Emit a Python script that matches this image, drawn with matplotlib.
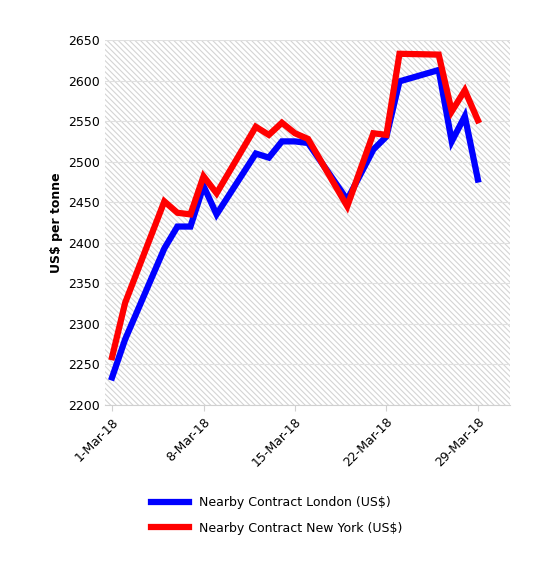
import matplotlib
matplotlib.use("Agg")
import matplotlib.pyplot as plt
import numpy as np
import datetime as dt

days = [1,2,5,6,7,8,9,12,13,14,15,16,19,21,22,23,26,27,28,29]
london = [2234,2281,2393,2420,2420,2470,2435,2510,2505,2525,2525,2523,2453,2515,2531,2599,2613,2525,2556,2478]
newyork = [2259,2326,2451,2437,2435,2482,2461,2543,2533,2548,2535,2528,2445,2535,2533,2633,2632,2562,2588,2551]
dates = [dt.datetime(2018,3,d) for d in days]
ticks = [dt.datetime(2018,3,d) for d in (1,8,15,22,29)]
tick_labels = ["1-Mar-18","8-Mar-18","15-Mar-18","22-Mar-18","29-Mar-18"]

plt.rcParams['hatch.color'] = '#d0d0d0'
plt.rcParams['hatch.linewidth'] = 0.8
fig = plt.figure(figsize=(5.46,5.62), dpi=100)
ax = fig.add_axes([105/546, 1-405/562, 405/546, 365/562])
ax.patch.set_facecolor('white')
ax.patch.set_hatch('\\\\\\\\\\\\')
ax.patch.set_edgecolor('#d4d4d4')
for y in range(2200, 2651, 50):
    ax.axhline(y, color='#e0e0e0', lw=0.8, zorder=0.5)
l1, = ax.plot(dates, london, color='#0000ff', lw=4.5, solid_joinstyle='miter', label='Nearby Contract London (US$)')
l2, = ax.plot(dates, newyork, color='#ff0000', lw=4.5, solid_joinstyle='miter', label='Nearby Contract New York (US$)')
ax.set_ylim(2200, 2650)
ax.set_yticks(range(2200, 2651, 50))
ax.set_xlim(dt.datetime(2018,2,28,11), dt.datetime(2018,3,31,11))
ax.set_xticks(ticks)
ax.set_xticklabels(tick_labels, rotation=45, ha='right', rotation_mode='anchor', fontsize=9)
ax.tick_params(axis='y', labelsize=9, length=0)
ax.tick_params(axis='x', length=4, color='#d0d0d0')
for s in ['top','right','left']:
    ax.spines[s].set_visible(False)
ax.spines['bottom'].set_color('#d0d0d0')
ax.set_ylabel('US$ per tonne', fontweight='bold', fontsize=9)
fig.legend(handles=[l1,l2], loc='upper left', bbox_to_anchor=(140/546, 1-485/562), frameon=False, fontsize=9, handlelength=3, labelspacing=1.0)
fig.savefig('out.png', dpi=100)
